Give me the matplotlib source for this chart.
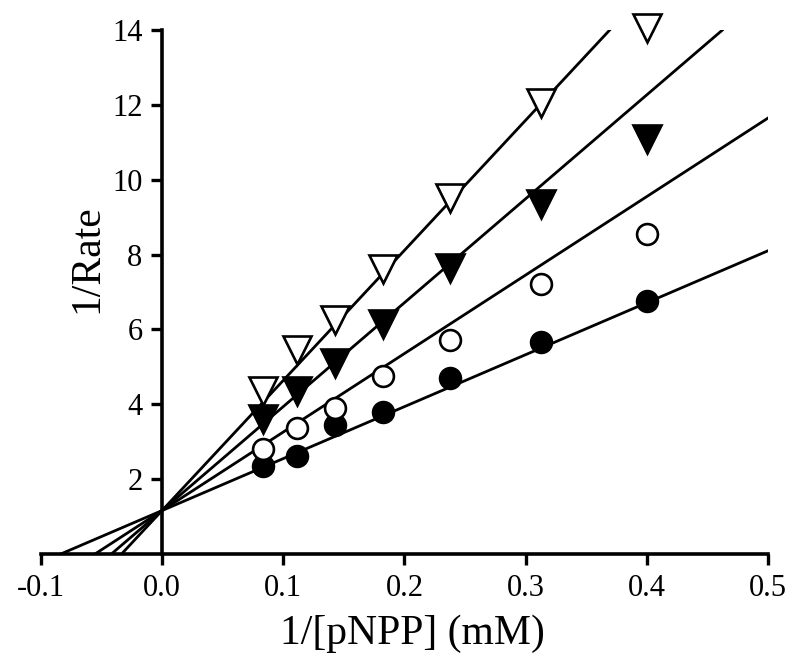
import matplotlib
matplotlib.use("Agg")
import matplotlib.pyplot as plt
import numpy as np

plt.rcParams["font.family"] = ["Liberation Serif", "DejaVu Serif"]

# 1/[pNPP] values (mM^-1)
inv_s = [0.083, 0.111, 0.143, 0.182, 0.238, 0.3125, 0.4]

# 1/Rate for the four series
filled_circles = [2.35, 2.6, 3.45, 3.8, 4.7, 5.65, 6.75]
open_circles = [2.8, 3.35, 3.9, 4.75, 5.7, 7.2, 8.55]
filled_triangles = [3.6, 4.35, 5.1, 6.15, 7.65, 9.35, 11.1]
open_triangles = [4.35, 5.45, 6.25, 7.6, 9.5, 12.05, 14.05]

# fitted lines (shared intercept, slopes)
intercept = 1.15
slopes = [13.9, 21.0, 27.8, 34.8]

x_ticks = [-0.1, 0.0, 0.1, 0.2, 0.3, 0.4, 0.5]
y_ticks = [2, 4, 6, 8, 10, 12, 14]

fig = plt.figure(figsize=(8, 6.71), dpi=100)
ax = fig.add_axes([0.051, 0.175, 0.909, 0.78])
ax.set_xlim(-0.1, 0.5)
ax.set_ylim(0, 14)

# regression lines from the x-intercept to the edge of the plot
for m in slopes:
    x0 = -intercept / m
    x1 = min(0.5, (14 - intercept) / m)
    xs = np.array([x0, x1])
    ax.plot(xs, intercept + m * xs, color="black", lw=2.0, zorder=2)

mk = dict(linestyle="none", markeredgecolor="black", markeredgewidth=1.9, zorder=3, clip_on=False)
ax.plot(inv_s, filled_circles, marker="o", markersize=15, markerfacecolor="black", **mk)
ax.plot(inv_s, open_circles, marker="o", markersize=15, markerfacecolor="white", **mk)
ax.plot(inv_s, filled_triangles, marker="v", markersize=20, markerfacecolor="black", **mk)
ax.plot(inv_s, open_triangles, marker="v", markersize=20, markerfacecolor="white", **mk)

ax.spines["left"].set_position(("data", 0))
ax.spines["bottom"].set_position(("data", 0))
ax.spines["right"].set_visible(False)
ax.spines["top"].set_visible(False)
for s in ("left", "bottom"):
    ax.spines[s].set_linewidth(2.6)

ax.set_xticks(x_ticks)
ax.set_xticklabels([f"{t:.1f}" for t in x_ticks], fontsize=22)
ax.set_yticks(y_ticks)
ax.set_yticklabels([str(t) for t in y_ticks], fontsize=22)
ax.tick_params(axis="both", direction="out", width=2.4)
ax.tick_params(axis="x", length=8, pad=7)
ax.tick_params(axis="y", length=8, pad=6)

ax.text(-0.062, 7.9, "1/Rate", rotation=90, ha="center", va="center", fontsize=30)
fig.text(0.516, 0.055, "1/[pNPP] (mM)", ha="center", va="center", fontsize=30)

fig.savefig("out.png", dpi=100)
